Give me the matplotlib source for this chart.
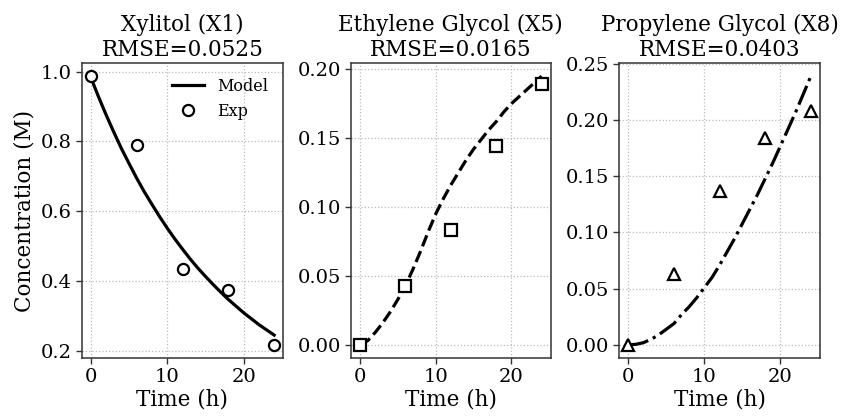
import matplotlib
matplotlib.use("Agg")
import matplotlib.pyplot as plt

# Experimental data
t_exp = [0, 6, 12, 18, 24]
x1_exp = [0.987, 0.789, 0.434, 0.375, 0.218]
x5_exp = [0.000, 0.043, 0.083, 0.144, 0.189]
x8_exp = [0.000, 0.063, 0.137, 0.184, 0.208]

# Model curves (hourly)
t_model = list(range(25))
x1_model = [0.983, 0.928, 0.876, 0.827, 0.780, 0.737, 0.695, 0.656, 0.620, 0.585,
            0.552, 0.521, 0.492, 0.464, 0.438, 0.414, 0.391, 0.369, 0.348, 0.329,
            0.310, 0.293, 0.276, 0.261, 0.246]
x5_model = [0.000, 0.003, 0.009, 0.016, 0.024, 0.033, 0.043, 0.055, 0.068, 0.082,
            0.095, 0.106, 0.116, 0.125, 0.134, 0.142, 0.149, 0.156, 0.162, 0.169,
            0.175, 0.180, 0.185, 0.190, 0.195]
x8_model = [0.000, 0.0005, 0.002, 0.005, 0.009, 0.014, 0.019, 0.027, 0.034, 0.042,
            0.051, 0.060, 0.071, 0.083, 0.095, 0.108, 0.121, 0.134, 0.148, 0.162,
            0.177, 0.192, 0.207, 0.223, 0.239]

titles = ["Xylitol (X1)\nRMSE=0.0525",
          "Ethylene Glycol (X5)\nRMSE=0.0165",
          "Propylene Glycol (X8)\nRMSE=0.0403"]
y_ticks = [[0.2, 0.4, 0.6, 0.8, 1.0],
           [0.00, 0.05, 0.10, 0.15, 0.20],
           [0.00, 0.05, 0.10, 0.15, 0.20, 0.25]]
y_fmt = ["{:.1f}", "{:.2f}", "{:.2f}"]
x_ticks = [0, 10, 20]

plt.rcParams['font.family'] = ['DejaVu Serif']

fig = plt.figure(figsize=(8.41, 4.17), dpi=100)
W, H = 841, 417
boxes = [(81.7, 283.3), (351.0, 550.7), (619.3, 820.0)]
top, bottom = 62.7, 358.3

series = [(x1_model, x1_exp, '-', 'o'),
          (x5_model, x5_exp, '--', 's'),
          (x8_model, x8_exp, '-.', '^')]

for i, ((l, r), (mod, ex, ls, mk)) in enumerate(zip(boxes, series)):
    ax = fig.add_axes([l / W, 1 - bottom / H, (r - l) / W, (bottom - top) / H])
    ax.plot(t_model, mod, color='black', linestyle=ls, linewidth=2.3, label='Model', zorder=3)
    ax.plot(t_exp, ex, linestyle='none', marker=mk, markersize=8 if mk != '^' else 8.5,
            markerfacecolor='white', markeredgecolor='black', markeredgewidth=1.6,
            label='Exp', zorder=4)
    ax.set_title(titles[i], fontsize=15.5, linespacing=1.15, pad=5)
    ax.set_xlabel("Time (h)", fontsize=15.5, labelpad=2)
    if i == 0:
        ax.set_ylabel("Concentration (M)", fontsize=15.5, labelpad=4)
        ax.legend(loc='upper right', frameon=False, fontsize=11.5,
                  handlelength=2.0, borderaxespad=0.55, labelspacing=0.5)
    ax.set_xticks(x_ticks)
    ax.set_xticklabels([str(v) for v in x_ticks])
    ax.set_yticks(y_ticks[i])
    ax.set_yticklabels([y_fmt[i].format(v) for v in y_ticks[i]])
    ax.tick_params(labelsize=14, direction='out', length=4, width=1, color='#333333', pad=3)
    ax.grid(True, linestyle=':', color='#bbbbbb', linewidth=0.9)
    ax.set_axisbelow(True)
    for s in ax.spines.values():
        s.set_color('#333333')
        s.set_linewidth(1.1)
    ax.set_xlim(-1.2, 25.2)

fig.savefig("out.png", dpi=100)
